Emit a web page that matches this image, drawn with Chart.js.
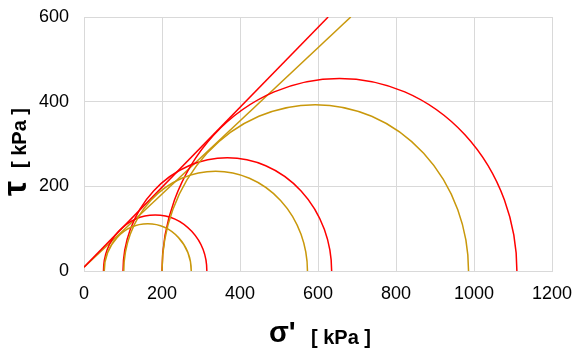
<!DOCTYPE html>
<html>
<head>
<meta charset="utf-8">
<script src="https://cdn.jsdelivr.net/npm/chart.js@4"></script>
<style>
  html, body { margin: 0; padding: 0; background: #fff; }
  #wrap { width: 574px; height: 354px; }
</style>
</head>
<body>
<div id="wrap"><canvas id="myChart"></canvas></div>
<script>
// Mohr circles: minor / major principal stress [kPa]
const RED_S3 = [50, 100, 200];
const RED_S1 = [315, 635, 1110];
const GOLD_S3 = [52, 102, 200];
const GOLD_S1 = [275, 573, 986];

// failure envelopes (end points)
const RED_LINE_X = [0, 626];
const RED_LINE_Y = [9, 600];
const GOLD_LINE_X = [0, 684];
const GOLD_LINE_Y = [9, 600];

const X_TICKS = [0, 200, 400, 600, 800, 1000, 1200];
const Y_TICKS = [0, 200, 400, 600];

const RED = '#ff0000';
const GOLD = '#c9980b';

function toPoints(xs, ys) {
    return xs.map((x, i) => ({ x: x, y: ys[i] }));
}

// draws the upper half of each Mohr circle through the chart scales
const mohrCircles = {
    id: 'mohrCircles',
    afterDatasetsDraw(chart) {
        const { ctx, chartArea, scales } = chart;
        const sets = [[RED_S3, RED_S1, RED], [GOLD_S3, GOLD_S1, GOLD]];
        ctx.save();
        ctx.beginPath();
        ctx.rect(chartArea.left, chartArea.top, chartArea.right - chartArea.left, chartArea.bottom - chartArea.top);
        ctx.clip();
        ctx.lineWidth = 1.5;
        sets.forEach(([s3, s1, color]) => {
            ctx.strokeStyle = color;
            s3.forEach((lo, i) => {
                const hi = s1[i];
                const cx = scales.x.getPixelForValue((lo + hi) / 2);
                const rx = scales.x.getPixelForValue(hi) - cx;
                const cy = scales.y.getPixelForValue(0);
                const ry = cy - scales.y.getPixelForValue((hi - lo) / 2);
                ctx.beginPath();
                ctx.ellipse(cx, cy, rx, ry, 0, Math.PI, 2 * Math.PI);
                ctx.stroke();
            });
        });
        ctx.restore();
    }
};

// axis titles with mixed font sizes
const axisTitles = {
    id: 'axisTitles',
    afterDraw(chart) {
        const ctx = chart.ctx;
        ctx.save();
        ctx.fillStyle = '#000';
        ctx.textBaseline = 'alphabetic';
        ctx.textAlign = 'left';

        ctx.font = 'bold 29px "Liberation Sans", Arial';
        ctx.fillText('σ\'', 269, 342);
        ctx.font = 'bold 20px "Liberation Sans", Arial';
        ctx.fillText('[ kPa ]', 311, 344);

        ctx.translate(26, 196);
        ctx.rotate(-Math.PI / 2);
        ctx.font = 'bold 34px "Liberation Sans", Arial';
        ctx.fillText('τ', 0, 0);
        ctx.font = 'bold 20px "Liberation Sans", Arial';
        ctx.fillText('[ kPa ]', 28, 0);
        ctx.restore();
    }
};

const CONTEXT = document.getElementById('myChart').getContext('2d');
new Chart(CONTEXT,
{
    type: 'scatter',
    data:
    {
        datasets:
        [{
            data: toPoints(RED_LINE_X, RED_LINE_Y),
            showLine: true,
            borderColor: RED,
            borderWidth: 1.5,
            pointRadius: 0
        },
        {
            data: toPoints(GOLD_LINE_X, GOLD_LINE_Y),
            showLine: true,
            borderColor: GOLD,
            borderWidth: 1.5,
            pointRadius: 0
        }]
    },
    options:
    {
        responsive: true,
        maintainAspectRatio: false,
        animation: false,
        layout: { padding: { left: 0, right: 22, top: 17, bottom: 0 } },
        plugins:
        {
            legend: { display: false },
            tooltip: { enabled: false }
        },
        scales:
        {
            x:
            {
                type: 'linear',
                min: 0,
                max: 1200,
                afterBuildTicks: (axis) => { axis.ticks = X_TICKS.map(v => ({ value: v })); },
                afterFit: (axis) => { axis.height = 83; axis.paddingLeft = 0; axis.paddingRight = 0; },
                grid: { color: '#d9d9d9', drawTicks: false },
                border: { color: '#d9d9d9' },
                ticks:
                {
                    color: '#000',
                    padding: 12,
                    font: { family: '"Liberation Sans", Arial', size: 18 },
                    callback: (v) => String(v)
                }
            },
            y:
            {
                type: 'linear',
                min: 0,
                max: 600,
                afterBuildTicks: (axis) => { axis.ticks = Y_TICKS.map(v => ({ value: v })); },
                afterFit: (axis) => { axis.width = 84; axis.paddingTop = 0; axis.paddingBottom = 0; },
                grid: { color: '#d9d9d9', drawTicks: false },
                border: { color: '#d9d9d9' },
                ticks:
                {
                    color: '#000',
                    padding: 15,
                    font: { family: '"Liberation Sans", Arial', size: 18 },
                    callback: (v) => String(v)
                }
            }
        }
    },
    plugins: [mohrCircles, axisTitles]
});
</script>
</body>
</html>
